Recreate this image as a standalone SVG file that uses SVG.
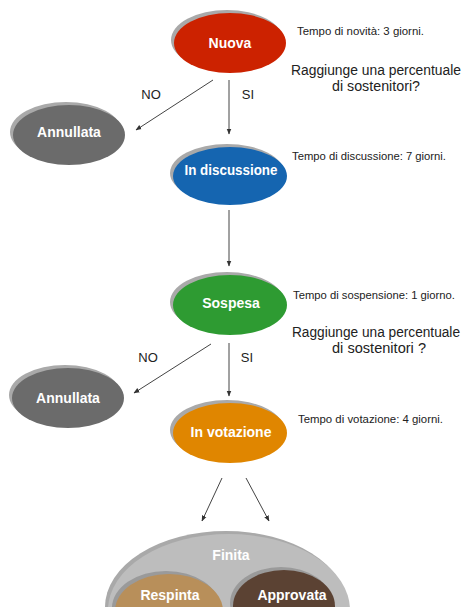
<svg xmlns="http://www.w3.org/2000/svg" width="467" height="607" viewBox="0 0 467 607">
  <defs>
    <marker id="arrow" viewBox="0 0 10 10" refX="9" refY="5" markerWidth="6" markerHeight="6" orient="auto">
      <path d="M0,1 L10,5 L0,9 z" fill="#333"/>
    </marker>
    <style>
      .shadow { fill: #a9a9a9; }
      .label { font-family: "Liberation Sans", Arial, sans-serif; font-weight: bold; font-size: 14px; fill: #fff; text-anchor: middle; }
      .note { font-family: "Liberation Sans", Arial, sans-serif; font-size: 11px; fill: #222; }
      .question { font-family: "Liberation Sans", Arial, sans-serif; font-size: 14px; fill: #222; text-anchor: middle; }
      .branch { font-family: "Liberation Sans", Arial, sans-serif; font-size: 13px; fill: #222; text-anchor: middle; }
      .edge { stroke: #444; stroke-width: 1; fill: none; marker-end: url(#arrow); }
    </style>
  </defs>
  <rect width="467" height="607" fill="#fff"/>

  <!-- connectors -->
  <g id="connectors">
    <line class="edge" x1="213" y1="80" x2="136" y2="130"/>
    <line class="edge" x1="229" y1="80" x2="229" y2="134"/>
    <line class="edge" x1="229" y1="210" x2="229" y2="266"/>
    <line class="edge" x1="211" y1="344" x2="134" y2="393"/>
    <line class="edge" x1="229" y1="343" x2="229" y2="396"/>
    <line class="edge" x1="222" y1="478" x2="202" y2="521"/>
    <line class="edge" x1="246" y1="478" x2="269" y2="521"/>
    <text class="branch" x="151" y="99">NO</text>
    <text class="branch" x="248" y="99">SI</text>
    <text class="branch" x="148" y="362">NO</text>
    <text class="branch" x="247" y="362">SI</text>
  </g>

  <!-- state nodes -->
  <g id="nuova">
    <ellipse class="shadow" cx="227" cy="40" rx="56" ry="30"/>
    <ellipse cx="230" cy="43" rx="56" ry="30" fill="#cc2200"/>
    <text class="label" x="230" y="48">Nuova</text>
  </g>

  <g id="annullata-1">
    <ellipse class="shadow" cx="66" cy="132" rx="56" ry="30"/>
    <ellipse cx="69" cy="135" rx="56" ry="30" fill="#6b6b6b"/>
    <text class="label" x="69" y="137">Annullata</text>
  </g>

  <g id="in-discussione">
    <ellipse class="shadow" cx="227" cy="173" rx="57" ry="29"/>
    <ellipse cx="230" cy="176" rx="57" ry="29" fill="#1565b0"/>
    <text class="label" x="231" y="175" textLength="93" lengthAdjust="spacingAndGlyphs">In discussione</text>
  </g>

  <g id="sospesa">
    <ellipse class="shadow" cx="227" cy="302" rx="57" ry="30"/>
    <ellipse cx="230" cy="305" rx="57" ry="30" fill="#2e9b32"/>
    <text class="label" x="231" y="308">Sospesa</text>
  </g>

  <g id="annullata-2">
    <ellipse class="shadow" cx="65" cy="395" rx="56" ry="30"/>
    <ellipse cx="68" cy="398" rx="56" ry="30" fill="#6b6b6b"/>
    <text class="label" x="68" y="403">Annullata</text>
  </g>

  <g id="in-votazione">
    <ellipse class="shadow" cx="227" cy="430" rx="57" ry="30"/>
    <ellipse cx="230" cy="433" rx="57" ry="30" fill="#e08600"/>
    <text class="label" x="231" y="437">In votazione</text>
  </g>

  <g id="finita">
    <ellipse cx="226" cy="607" rx="121" ry="76" fill="#a9a9a9"/>
    <ellipse cx="229" cy="610" rx="121" ry="76" fill="#bdbdbd"/>
    <text class="label" x="231" y="560">Finita</text>
    <g id="respinta">
      <ellipse cx="166" cy="608" rx="54" ry="37" fill="#9a9a9a"/>
      <ellipse cx="169" cy="611" rx="54" ry="37" fill="#b88f5a"/>
      <text class="label" x="170" y="600">Respinta</text>
    </g>
    <g id="approvata">
      <ellipse cx="281" cy="603" rx="51" ry="36" fill="#9a9a9a"/>
      <ellipse cx="284" cy="606" rx="51" ry="36" fill="#5b4233"/>
      <text class="label" x="292" y="600">Approvata</text>
    </g>
  </g>

  <!-- notes -->
  <g id="notes">
    <text class="note" x="297" y="35" textLength="127" lengthAdjust="spacingAndGlyphs">Tempo di novità: 3 giorni.</text>
    <text class="question" x="376" y="75" textLength="170" lengthAdjust="spacingAndGlyphs">Raggiunge una percentuale</text>
    <text class="question" x="376" y="91" textLength="88" lengthAdjust="spacingAndGlyphs">di sostenitori?</text>
    <text class="note" x="292" y="160" textLength="154" lengthAdjust="spacingAndGlyphs">Tempo di discussione: 7 giorni.</text>
    <text class="note" x="293" y="299" textLength="162" lengthAdjust="spacingAndGlyphs">Tempo di sospensione: 1 giorno.</text>
    <text class="question" x="376" y="337" textLength="168" lengthAdjust="spacingAndGlyphs">Raggiunge una percentuale</text>
    <text class="question" x="379" y="353" textLength="94" lengthAdjust="spacingAndGlyphs">di sostenitori ?</text>
    <text class="note" x="298" y="423" textLength="145" lengthAdjust="spacingAndGlyphs">Tempo di votazione: 4 giorni.</text>
  </g>
</svg>
